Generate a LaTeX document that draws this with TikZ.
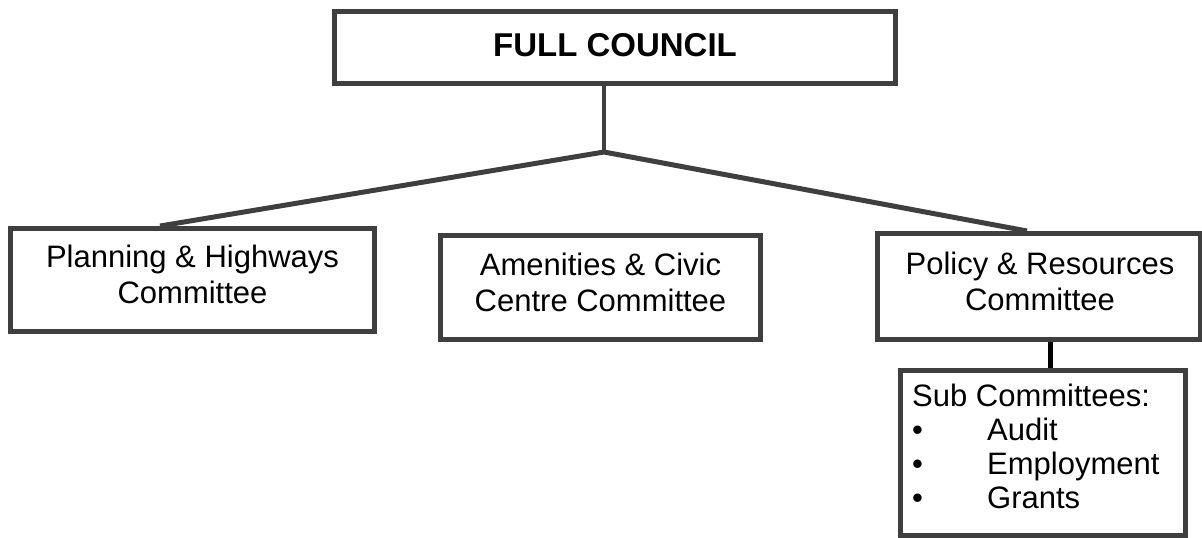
\documentclass[tikz,border=0pt]{standalone}
\usepackage{fontspec}
\setmainfont{Liberation Sans}
\definecolor{edge}{HTML}{3F3F3F}
\tikzset{
  box/.style={draw=edge, line width=5pt, rectangle, inner sep=0pt},
  lbl/.style={inner sep=0pt, align=center, font=\fontsize{31}{36}\selectfont},
  link/.style={draw=edge, line width=5pt},
}
\begin{document}
\begin{tikzpicture}[x=1pt,y=-1pt]
\useasboundingbox (0,0) rectangle (1202,538);
% boxes
\node[box, minimum width=561pt, minimum height=72pt] (fc) at (615,47.5) {};
\node[box, minimum width=364pt, minimum height=103pt] (plan) at (192.5,280) {};
\node[box, minimum width=320pt, minimum height=104pt] (amen) at (600.5,287.5) {};
\node[box, minimum width=322.5pt, minimum height=106pt] (pol) at (1038.75,286.5) {};
\node[box, minimum width=285pt, minimum height=165pt] (sub) at (1043,453) {};
% texts
\node[lbl, font=\fontsize{33}{38}\selectfont\bfseries, anchor=north] (fct) at (615,33) {FULL COUNCIL};
\node[lbl, anchor=north] (plant) at (192.5,245) {Planning \& Highways\\Committee};
\node[lbl, anchor=north] (ament) at (600.5,253) {Amenities \& Civic\\Centre Committee};
\node[lbl, anchor=north] (polt) at (1040,252) {Policy \& Resources\\Committee};
\node[lbl, align=left, anchor=north west, font=\fontsize{31}{34}\selectfont] (subt) at (912,384)
  {Sub Committees:\\
   \makebox[75pt][l]{•}Audit\\
   \makebox[75pt][l]{•}Employment\\
   \makebox[75pt][l]{•}Grants};
% connectors
\coordinate (j) at (604,152);
\draw[draw=edge, line width=3.5pt] (fc.south -| j) -- (j);
\draw[link] (j) -- ([xshift=-32.5pt]plan.north);
\draw[link] (j) -- ([xshift=-11.75pt]pol.north);
\draw[line width=5pt, black] ([xshift=7pt]sub.north) -- ([xshift=7pt]sub.north |- pol.south);
\end{tikzpicture}
\end{document}
